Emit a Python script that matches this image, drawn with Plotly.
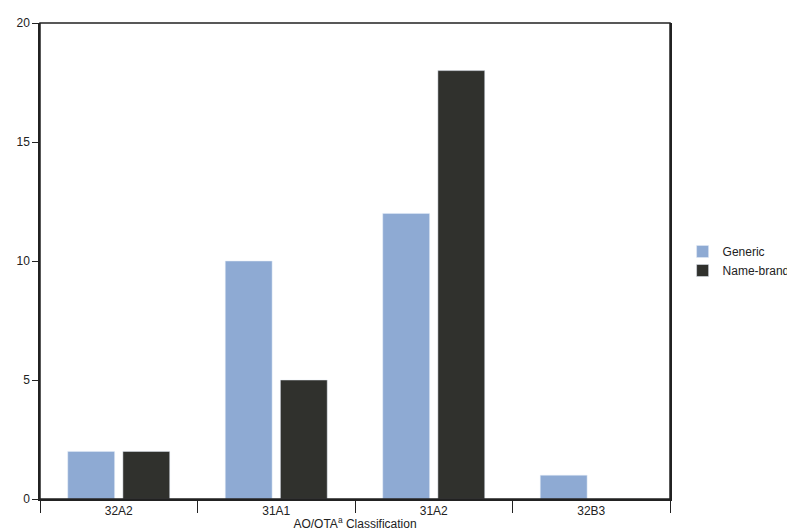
import plotly.graph_objects as go

categories = ["32A2", "31A1", "31A2", "32B3"]
generic = [2, 10, 12, 1]
name_brand = [2, 5, 18, 0]

fig = go.Figure()
fig.add_trace(go.Bar(x=categories, y=generic, name="Generic", marker_color="#8eaad3"))
fig.add_trace(go.Bar(x=categories, y=name_brand, name="Name-brand", marker_color="#30312d"))

fig.update_layout(
    width=795, height=530,
    margin=dict(l=32, r=104, t=8, b=39),
    plot_bgcolor="white", paper_bgcolor="white",
    font=dict(family="Liberation Sans, Arial", size=12, color="#222"),
    bargap=0.3, bargroupgap=0.15,
    legend=dict(x=1.02, y=0.5, yanchor="middle", xanchor="left", font=dict(size=12)),
)
fig.update_xaxes(
    tickson="boundaries", ticks="outside", ticklen=12, tickwidth=1.3, tickcolor="#222",
    showline=True, linecolor="#222", linewidth=1.5, mirror=False,
    title=dict(text="AO/OTA<sup>a</sup> Classification", standoff=2, font=dict(size=12)),
)
fig.update_yaxes(
    range=[0, 20], tickvals=[0, 5, 10, 15, 20], ticks="outside", ticklen=6,
    tickcolor="#222", showgrid=False, zeroline=False,
    showline=True, linecolor="#222", linewidth=1.5, mirror=True,
)
# frame around the plot area
fig.add_shape(type="rect", xref="paper", yref="paper", x0=0, y0=0, x1=1, y1=1,
              line=dict(color="#222", width=1.5))

fig.write_html("out.html")
